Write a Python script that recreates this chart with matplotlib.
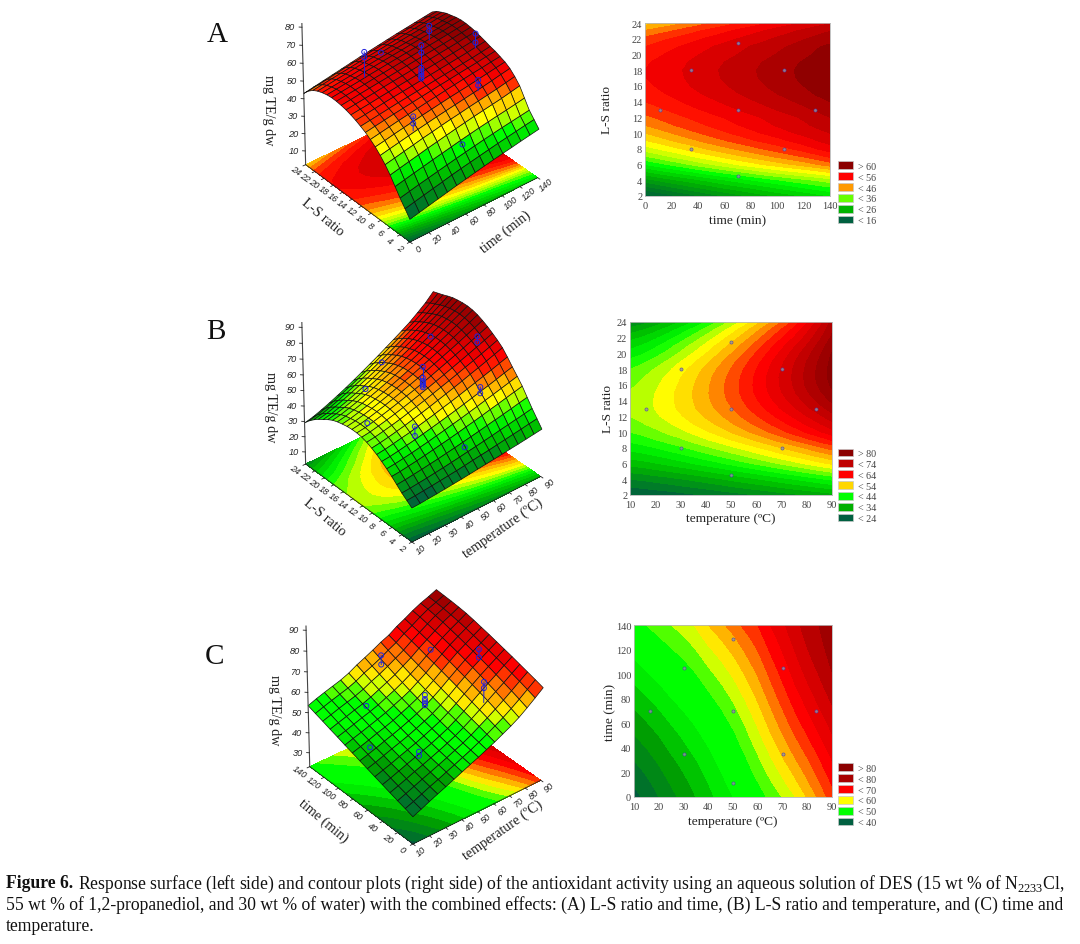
import numpy as np
import matplotlib
matplotlib.use("Agg")
import matplotlib.pyplot as plt
from matplotlib.colors import BoundaryNorm, ListedColormap, to_rgb
from matplotlib.patches import Patch
from mpl_toolkits.mplot3d import proj3d

plt.rcParams["font.family"] = ["Liberation Serif", "DejaVu Serif"]
plt.rcParams["mathtext.fontset"] = "custom"
plt.rcParams["mathtext.rm"] = "Liberation Serif"

W, H = 1080, 945

# panel A: mg TE/g dw, rows = L-S ratio, columns = time
a_time = [0, 10, 20, 30, 40, 50, 60, 70, 80, 90, 100, 110, 120, 130, 140]
a_ls = list(range(2, 25))
a_z = [
    [15, 16.2, 17.4, 18.6, 19.8, 21, 22.1, 23.2, 24.3, 25.3, 26.3, 27.2, 28.2, 29.1, 30],
    [19, 20.2, 21.4, 22.6, 23.7, 24.9, 26, 27, 28, 29, 30, 30.9, 31.8, 32.7, 33.5],
    [23, 24.2, 25.4, 26.5, 27.6, 28.7, 29.8, 30.8, 31.8, 32.8, 33.7, 34.6, 35.4, 36.2, 37],
    [27.5, 28.7, 29.9, 31, 32.2, 33.3, 34.4, 35.5, 36.5, 37.5, 38.4, 39.3, 40.1, 41, 42],
    [32, 33.2, 34.4, 35.6, 36.8, 37.9, 39, 40.1, 41.1, 42.1, 43, 43.9, 44.8, 45.9, 47],
    [35.8, 36.9, 38.1, 39.2, 40.4, 41.4, 42.5, 43.5, 44.4, 45.4, 46.3, 47.2, 48.1, 49.2, 50.3],
    [39, 40.1, 41.2, 42.3, 43.4, 44.4, 45.4, 46.3, 47.2, 48.1, 49, 49.9, 50.9, 52, 53],
    [41.8, 42.8, 43.9, 44.9, 45.9, 46.9, 47.8, 48.7, 49.6, 50.4, 51.2, 52.1, 53, 53.9, 54.8],
    [44, 45, 46, 47, 47.9, 48.8, 49.7, 50.5, 51.4, 52.2, 53, 53.8, 54.5, 55.3, 56],
    [46, 46.9, 47.8, 48.7, 49.5, 50.3, 51.1, 51.9, 52.7, 53.4, 54.2, 54.9, 55.6, 56.4, 57.2],
    [47.5, 48.3, 49.1, 49.9, 50.7, 51.4, 52.1, 52.8, 53.5, 54.2, 54.9, 55.6, 56.3, 57.1, 58],
    [48.9, 49.6, 50.4, 51.2, 51.9, 52.6, 53.3, 54, 54.7, 55.4, 56.1, 56.8, 57.5, 58.3, 59.1],
    [50, 50.7, 51.4, 52.2, 52.9, 53.6, 54.3, 55, 55.7, 56.4, 57.1, 57.8, 58.5, 59.3, 60],
    [50.9, 51.6, 52.3, 53, 53.8, 54.5, 55.2, 55.9, 56.6, 57.3, 58, 58.7, 59.4, 60.2, 60.9],
    [51.5, 52.2, 53, 53.7, 54.4, 55.1, 55.8, 56.5, 57.2, 57.9, 58.6, 59.3, 60, 60.8, 61.5],
    [51.9, 52.6, 53.3, 54, 54.8, 55.5, 56.2, 56.9, 57.6, 58.3, 59, 59.7, 60.4, 61.2, 61.9],
    [52, 52.7, 53.4, 54.1, 54.9, 55.6, 56.3, 57, 57.7, 58.4, 59.1, 59.8, 60.5, 61.3, 62],
    [51.7, 52.4, 53.1, 53.8, 54.6, 55.3, 56, 56.7, 57.4, 58.1, 58.8, 59.5, 60.2, 61, 61.7],
    [51, 51.7, 52.4, 53.1, 53.9, 54.6, 55.3, 56, 56.7, 57.4, 58.1, 58.8, 59.5, 60.3, 61],
    [50, 50.8, 51.6, 52.3, 53.1, 53.9, 54.6, 55.3, 56.1, 56.8, 57.5, 58.2, 59, 59.8, 60.4],
    [48.5, 49.3, 50.1, 50.9, 51.7, 52.5, 53.3, 54, 54.8, 55.5, 56.3, 57, 57.8, 58.6, 59.2],
    [46.2, 47.1, 47.9, 48.9, 49.8, 50.7, 51.5, 52.4, 53.2, 54, 54.9, 55.6, 56.4, 57.2, 57.9],
    [43, 44, 45, 46, 47, 48, 49, 49.9, 50.8, 51.7, 52.6, 53.4, 54.2, 55, 55.8],
]
a_nodes = [14, 20, 26, 33, 37, 41, 46, 49, 52, 56, 60, 62]
a_node_colors = ["#005a40", "#007f20", "#00b400", "#00ff00", "#a0ff00", "#ffff00", "#ff9900",
                 "#ff3000", "#ff0000", "#cc0000", "#a00000", "#800000"]
a_legend = ["> 60", "< 56", "< 46", "< 36", "< 26", "< 16"]
a_legend_colors = ["#8b0000", "#ff0000", "#ff9900", "#66ff00", "#00b400", "#006040"]
a_design_x = [11, 35, 35, 70, 70, 70, 105, 105, 129]
a_design_y = [13, 8, 18, 4.6, 13, 21.4, 8, 18, 13]
a_pt_x = [35, 35, 70, 105, 105, 129, 129, 105, 105, 35, 35, 70, 70, 70, 70, 70, 70, 70, 70]
a_pt_y = [18, 18, 21.4, 18, 18, 13, 13, 8, 8, 8, 8, 4.6, 13, 13, 13, 13, 13, 13, 13]
a_pt_z = [69, 66, 54, 67, 64, 66, 61, 55, 52, 52, 48, 34, 73.5, 69.5, 61, 59, 57.5, 56, 55]
a_stem_x = [35, 105, 70, 105, 35, 129]
a_stem_y = [18, 18, 13, 8, 8, 13]
a_stem_low = [55, 59, 55, 49, 44, 58]
a_stem_high = [69, 67, 73.5, 55, 52, 66]

# panel B: rows = L-S ratio, columns = temperature
b_temp = [10, 15, 20, 25, 30, 35, 40, 45, 50, 55, 60, 65, 70, 75, 80, 85, 90]
b_ls = list(range(2, 25))
b_z = [
    [24, 24.3, 24.7, 25.1, 25.6, 26.1, 26.6, 27.2, 27.8, 28.4, 29, 29.6, 30.3, 30.9, 31.6, 32.3, 33],
    [26.5, 26.9, 27.4, 27.9, 28.5, 29.1, 29.7, 30.4, 31.2, 31.9, 32.6, 33.4, 34.2, 35, 35.8, 36.7, 37.5],
    [29, 29.4, 30, 30.6, 31.3, 32, 32.8, 33.6, 34.5, 35.3, 36.2, 37.1, 38.1, 39, 40, 41, 42],
    [32, 32.5, 33.2, 33.9, 34.7, 35.5, 36.4, 37.3, 38.3, 39.3, 40.3, 41.4, 42.5, 43.6, 44.7, 45.9, 47],
    [35, 35.5, 36.3, 37.1, 38, 39, 40, 41, 42.1, 43.3, 44.4, 45.6, 46.9, 48.1, 49.4, 50.7, 52],
    [37.6, 38.2, 39, 39.9, 40.9, 41.9, 43.1, 44.2, 45.4, 46.6, 47.9, 49.2, 50.6, 51.9, 53.3, 54.7, 56.1],
    [40, 40.6, 41.5, 42.5, 43.5, 44.7, 45.9, 47.1, 48.4, 49.7, 51.1, 52.5, 54, 55.4, 56.9, 58.5, 60],
    [42.2, 42.9, 43.9, 45, 46, 47.4, 48.7, 50, 51.5, 52.9, 54.4, 56, 57.6, 59.2, 60.8, 62.5, 64.2],
    [44, 44.8, 45.8, 47, 48.2, 49.6, 51, 52.5, 54.1, 55.7, 57.3, 59, 60.8, 62.5, 64.3, 66.1, 68],
    [45.5, 46.3, 47.4, 48.6, 49.9, 51.4, 52.9, 54.4, 56.1, 57.8, 59.5, 61.3, 63.1, 64.9, 66.8, 68.7, 70.7],
    [46.5, 47.3, 48.5, 49.8, 51.2, 52.7, 54.3, 55.9, 57.6, 59.4, 61.2, 63.1, 65, 66.9, 68.9, 70.9, 73],
    [47, 47.8, 49.1, 50.5, 52, 53.6, 55.3, 57, 58.8, 60.7, 62.7, 64.7, 66.7, 68.7, 70.9, 73, 75.2],
    [47, 47.9, 49.2, 50.7, 52.3, 54, 55.8, 57.7, 59.6, 61.6, 63.7, 65.8, 67.9, 70.1, 72.4, 74.7, 77],
    [46.7, 47.7, 49, 50.6, 52.3, 54.1, 56, 58, 60, 62.2, 64.4, 66.6, 68.9, 71.2, 73.6, 76, 78.5],
    [46, 47, 48.5, 50.1, 51.9, 53.8, 55.8, 57.9, 60.1, 62.3, 64.6, 67, 69.4, 71.8, 74.4, 76.9, 79.5],
    [45.2, 46.3, 47.8, 49.5, 51.4, 53.3, 55.4, 57.6, 59.8, 62.1, 64.5, 67, 69.5, 72, 74.7, 77.3, 80],
    [44, 45.1, 46.7, 48.4, 50.4, 52.4, 54.6, 56.8, 59.1, 61.5, 64, 66.5, 69.1, 71.8, 74.5, 77.2, 80],
    [42.2, 43.4, 45, 46.8, 48.9, 51, 53.2, 55.6, 58, 60.5, 63, 65.7, 68.4, 71.2, 74, 76.8, 79.7],
    [40, 41.2, 42.9, 44.8, 46.9, 49.1, 51.4, 53.9, 56.4, 59, 61.7, 64.4, 67.2, 70.1, 73, 76, 79.2],
    [38, 39.2, 40.9, 42.9, 45, 47.3, 49.6, 52.1, 54.7, 57.3, 60, 62.9, 65.7, 68.6, 71.6, 74.9, 78.2],
    [35.5, 36.8, 38.5, 40.5, 42.7, 45, 47.4, 49.9, 52.5, 55.2, 58, 60.9, 63.8, 66.7, 69.9, 73.4, 77],
    [32.6, 33.9, 35.7, 37.7, 40, 42.3, 44.8, 47.4, 50.1, 52.9, 55.8, 58.7, 61.7, 64.8, 68.2, 72, 76],
    [29, 30.3, 32.2, 34.3, 36.6, 39, 41.6, 44.3, 47.1, 49.9, 52.9, 55.9, 59, 62.2, 66, 70, 75],
]
b_nodes = [24, 34, 42, 46, 50, 54, 58, 62, 65, 72, 80]
b_node_colors = ["#005a40", "#00b400", "#00ff00", "#80ff00", "#ffff00", "#ffd000", "#ff8000",
                 "#ff2000", "#ff0000", "#c80000", "#8b0000"]
b_legend = ["> 80", "< 74", "< 64", "< 54", "< 44", "< 34", "< 24"]
b_legend_colors = ["#8b0000", "#c00000", "#ff0000", "#ffd700", "#00ff00", "#00b000", "#006040"]
b_design_x = [16.3, 30, 30, 50, 50, 50, 70, 70, 83.7]
b_design_y = [13, 8, 18, 4.6, 13, 21.4, 8, 18, 13]
b_pt_x = [30, 50, 70, 83.7, 83.7, 50, 50, 50, 50, 50, 50, 50, 70, 70, 50, 30, 30, 16.3]
b_pt_y = [18, 21.4, 18, 13, 13, 13, 13, 13, 13, 13, 13, 13, 8, 8, 4.6, 8, 8, 13]
b_pt_z = [54, 54, 68, 72, 68, 69, 62, 60, 59, 58, 57, 56, 57, 53, 36, 52, 46, 50]
b_stem_x = [83.7, 50, 70, 30]
b_stem_y = [13, 13, 8, 8]
b_stem_low = [68, 56, 53, 46]
b_stem_high = [72, 69, 57, 52]

# panel C: rows = temperature, columns = time
c_temp = [10, 15, 20, 25, 30, 35, 40, 45, 50, 55, 60, 65, 70, 75, 80, 85, 90]
c_time = [0, 10, 20, 30, 40, 50, 60, 70, 80, 90, 100, 110, 120, 130, 140]
c_z = [
    [36.5, 37.7, 38.8, 40, 41.2, 42.4, 43.6, 44.8, 46, 47.2, 48.5, 49.7, 51, 52.2, 53.5],
    [38.2, 39.2, 40.3, 41.4, 42.5, 43.7, 44.8, 46, 47.2, 48.5, 49.7, 51, 52.3, 53.6, 55],
    [40, 40.9, 41.9, 42.9, 44, 45, 46.2, 47.3, 48.5, 49.7, 51, 52.2, 53.6, 54.9, 56.3],
    [41.7, 42.6, 43.5, 44.5, 45.5, 46.5, 47.6, 48.7, 49.9, 51, 52.3, 53.5, 54.8, 56.1, 57.5],
    [43.3, 44.1, 45, 45.9, 46.9, 47.9, 48.9, 50, 51.1, 52.3, 53.5, 54.7, 56, 57.3, 58.7],
    [45, 45.8, 46.6, 47.4, 48.4, 49.3, 50.3, 51.4, 52.5, 53.7, 54.9, 56.2, 57.5, 58.9, 60.3],
    [46.7, 47.4, 48.2, 49, 49.9, 50.9, 51.9, 53, 54.2, 55.4, 56.7, 58, 59.5, 61, 62.5],
    [48.4, 49.1, 49.9, 50.7, 51.6, 52.6, 53.6, 54.7, 55.9, 57.1, 58.4, 59.8, 61.2, 62.7, 64.3],
    [50, 50.8, 51.6, 52.5, 53.4, 54.4, 55.5, 56.6, 57.8, 59, 60.4, 61.7, 63.2, 64.6, 66.2],
    [51.8, 52.7, 53.6, 54.6, 55.7, 56.7, 57.8, 59, 60.2, 61.5, 62.7, 64.1, 65.4, 66.8, 68.3],
    [53.6, 54.7, 55.9, 57, 58.1, 59.3, 60.4, 61.6, 62.8, 64, 65.2, 66.4, 67.6, 68.8, 70],
    [55.6, 56.9, 58.2, 59.5, 60.8, 62.1, 63.3, 64.5, 65.7, 66.9, 68, 69.2, 70.3, 71.4, 72.5],
    [57.6, 59.1, 60.6, 62.1, 63.5, 64.8, 66.1, 67.3, 68.5, 69.6, 70.7, 71.7, 72.7, 73.6, 74.5],
    [59.9, 61.6, 63.1, 64.7, 66.1, 67.5, 68.8, 70, 71.2, 72.3, 73.3, 74.2, 75.1, 76, 76.7],
    [62.7, 64.3, 65.8, 67.2, 68.6, 70, 71.2, 72.4, 73.5, 74.6, 75.6, 76.6, 77.4, 78.1, 78.6],
    [65.7, 67.2, 68.6, 69.9, 71.2, 72.4, 73.6, 74.7, 75.8, 76.8, 77.7, 78.5, 79.2, 79.7, 80.1],
    [68.8, 70.1, 71.3, 72.5, 73.7, 74.8, 75.9, 77, 78, 79, 79.9, 80.5, 81, 81.4, 81.8],
]
c_nodes = [36, 44, 50, 55, 57.5, 60, 62.5, 65, 67.5, 71, 77, 80, 84]
c_node_colors = ["#005a40", "#00a000", "#00ff00", "#00ff00", "#a0ff00", "#ffff00", "#ffd000", "#ff9900",
                 "#ff5000", "#ff0000", "#d00000", "#a80000", "#8b0000"]
c_legend = ["> 80", "< 80", "< 70", "< 60", "< 50", "< 40"]
c_legend_colors = ["#8b0000", "#a80000", "#ff0000", "#ffff00", "#00ff00", "#006040"]
c_design_x = [16.3, 30, 30, 50, 50, 50, 70, 70, 83.7]
c_design_y = [70, 35, 105, 11, 70, 128.6, 35, 105, 70]
c_pt_x = [50, 50, 70, 83.7, 83.7, 70, 70, 50, 50, 50, 50, 50, 30, 16.3, 30, 30]
c_pt_y = [128.6, 128.6, 105, 70, 70, 35, 35, 70, 70, 70, 70, 70, 105, 70, 35, 35]
c_pt_z = [66.5, 62, 68, 72, 68, 70, 67, 62, 60, 59, 58, 57, 55, 49, 51, 49]
c_stem_x = [50, 83.7, 70]
c_stem_y = [128.6, 70, 35]
c_stem_low = [62, 68, 60]
c_stem_high = [66.5, 72, 70]


def fx(px):
    return px / W


def fy(py):
    return 1 - py / H


def band_cmap(levels, nodes, node_colors):
    mids = (np.array(levels[:-1]) + np.array(levels[1:])) / 2
    rgb = np.array([to_rgb(c) for c in node_colors])
    colors = np.column_stack([np.interp(mids, nodes, rgb[:, i]) for i in range(3)])
    return ListedColormap(colors), BoundaryNorm(levels, len(mids))


def corner_px(ax, x, y, z):
    u, v, _ = proj3d.proj_transform(x, y, z, ax.get_proj())
    return ax.transData.transform((u, v))


def surface_panel(x, y, z, levels, nodes, colors, zlim, zticks, view, zratio, front, left, right,
                  xticks, yticks, pts, stems):
    x, y, z = np.array(x, float), np.array(y, float), np.array(z, float)
    xx, yy = np.meshgrid(x, y)
    cmap, norm = band_cmap(levels, nodes, colors)
    ax = fig.add_axes([0.2, 0.2, 300 / W, 300 / H], projection="3d", proj_type="persp", focal_length=2.0)
    ax.computed_zorder = False
    ax.set_box_aspect((1, 1, zratio))
    ax.view_init(elev=view[0], azim=view[1])
    ax.set_xlim(x[0], x[-1])
    ax.set_ylim(y[0], y[-1])
    ax.set_zlim(*zlim)
    ax.set_axis_off()
    ax.patch.set_alpha(0)

    ax.contourf(xx, yy, z, levels=levels, cmap=cmap, norm=norm, zdir="z", offset=zlim[0], zorder=1)
    cell = (z[:-1, :-1] + z[1:, :-1] + z[:-1, 1:] + z[1:, 1:]) / 4
    ax.plot_surface(xx, yy, z, facecolors=cmap(norm(cell)), rstride=1, cstride=1, shade=False,
                    edgecolor="#101010", linewidth=0.5, zorder=2)

    # axis lines and ticks
    xr, yr = x[-1] - x[0], y[-1] - y[0]
    zf = zlim[0]
    line = dict(color="#222222", lw=0.6, zorder=3)
    ax.plot([x[0], x[-1]], [y[0], y[0]], [zf, zf], **line)
    ax.plot([x[0], x[0]], [y[0], y[-1]], [zf, zf], **line)
    ax.plot([x[0], x[0]], [y[-1], y[-1]], zlim, color="#444444", lw=0.8, zorder=3)
    for t in xticks:
        ax.plot([t, t], [y[0], y[0] - 0.02 * yr], [zf, zf], **line)
    for t in yticks:
        ax.plot([x[0], x[0] - 0.02 * xr], [t, t], [zf, zf], **line)
    for t in zticks:
        ax.plot([x[0], x[0] - 0.012 * xr], [y[-1], y[-1] + 0.012 * yr], [t, t], **line)

    # experimental points
    for sx, sy, lo, hi in zip(*stems):
        ax.plot([sx, sx], [sy, sy], [lo, hi], color="#2020dd", lw=0.7, zorder=4)
    ax.scatter(pts[0], pts[1], pts[2], s=13, facecolors="none", edgecolors="#2222dd",
               linewidths=0.7, depthshade=False, zorder=5)

    # scale and shift so the floor corners land on the reference pixels
    p_l = corner_px(ax, x[0], y[-1], zf)
    p_r = corner_px(ax, x[-1], y[0], zf)
    s = (right - left) / (p_r[0] - p_l[0])
    pos = ax.get_position()
    ax.set_position([pos.x0, pos.y0, pos.width * s, pos.height * s])
    p_f = corner_px(ax, x[0], y[0], zf)
    pos = ax.get_position()
    ax.set_position([pos.x0 + (front[0] - p_f[0]) / W, pos.y0 + ((H - front[1]) - p_f[1]) / H,
                     pos.width, pos.height])

    # tick labels go on the figure, at the projected tick positions
    tick_font = dict(family="Liberation Sans", style="italic", fontsize=6.6, color="#222222",
                     ha="center", va="center")

    def tick_label(px, txt, rot=0):
        fig.text(px[0] / W, px[1] / H, txt, rotation=rot, **tick_font)

    for t in xticks:
        tick_label(corner_px(ax, t, y[0] - 0.08 * yr, zf), str(t), 40)
    for t in yticks:
        tick_label(corner_px(ax, x[0] - 0.08 * xr, t, zf), str(t), -35)
    for t in zticks:
        tick_label(corner_px(ax, x[0] - 0.05 * xr, y[-1] + 0.05 * yr, t), str(t))
    return ax


def contour_panel(x, y, z, levels, nodes, colors, box, xticks, yticks, xlabel, ylabel, dx, dy,
                  legend, legend_colors, legend_bottom, xlabel_y, ylabel_x):
    cmap, norm = band_cmap(levels, nodes, colors)
    ax = fig.add_axes([fx(box[0]), fy(box[3]), (box[1] - box[0]) / W, (box[3] - box[2]) / H])
    ax.contourf(x, y, z, levels=levels, cmap=cmap, norm=norm)
    ax.scatter(dx, dy, s=5, facecolors="#9a9a9a", edgecolors="#4a3fb0", linewidths=0.5, alpha=0.8, zorder=3)
    ax.set_xlim(x[0], x[-1])
    ax.set_ylim(y[0], y[-1])
    ax.set_xticks(xticks)
    ax.set_yticks(yticks)
    ax.tick_params(length=0, pad=2, labelsize=7.5, labelcolor="#444444")
    ax.tick_params(axis="x", pad=3.5)
    ax.set_xlabel(xlabel, fontsize=9.6, color="#222222", va="center")
    ax.set_ylabel(ylabel, fontsize=9.6, color="#222222", va="center")
    ax.xaxis.set_label_coords(0.5, (box[3] - xlabel_y) / (box[3] - box[2]))
    ax.yaxis.set_label_coords((ylabel_x - box[0]) / (box[1] - box[0]), 0.5)
    for sp in ax.spines.values():
        sp.set_color("#b8b8b8")
        sp.set_linewidth(0.6)
    handles = [Patch(facecolor=c, edgecolor="#c8c8c8", linewidth=0.5) for c in legend_colors]
    fig.legend(handles, legend, loc="lower left", bbox_to_anchor=(fx(838), fy(legend_bottom)),
               frameon=False, fontsize=7.3, handlelength=1.5, handleheight=0.8, labelspacing=0.14,
               handletextpad=0.45, borderpad=0, borderaxespad=0, labelcolor="#444444")
    return ax


fig = plt.figure(figsize=(W / 100, H / 100), dpi=100)

# surfaces
surface_panel(a_time, a_ls, a_z, np.arange(14, 64, 2.0), a_nodes, a_node_colors, (2, 82),
              range(10, 81, 10), (35, -129.6), 1.03, (410, 243), 305, 537,
              range(0, 141, 20), range(2, 25, 2), (a_pt_x, a_pt_y, a_pt_z),
              (a_stem_x, a_stem_y, a_stem_low, a_stem_high))
surface_panel(b_temp, b_ls, b_z, np.arange(24, 84, 2.5), b_nodes, b_node_colors, (2, 93),
              range(10, 91, 10), (35, -129.9), 1.02, (412, 543), 305, 540,
              range(10, 91, 10), range(2, 25, 2), (b_pt_x, b_pt_y, b_pt_z),
              (b_stem_x, b_stem_y, b_stem_low, b_stem_high))
c_grid = np.array(c_z).T
surface_panel(c_temp, c_time, c_grid, np.arange(35, 87.5, 2.5), c_nodes, c_node_colors, (23, 92),
              range(30, 91, 10), (35, -129.3), 1.03, (413, 845), 309, 540,
              range(10, 91, 10), range(0, 141, 20), (c_pt_x, c_pt_y, c_pt_z),
              (c_stem_x, c_stem_y, c_stem_low, c_stem_high))

# contour maps
contour_panel(a_time, a_ls, a_z, np.arange(14, 64, 2.0), a_nodes, a_node_colors, (645, 830, 24, 197),
              range(0, 141, 20), range(2, 25, 2), "time (min)", "L-S ratio", a_design_x, a_design_y,
              a_legend, a_legend_colors, 226, 221, 607)
contour_panel(b_temp, b_ls, b_z, np.arange(24, 84, 2.5), b_nodes, b_node_colors, (630, 832, 323, 496),
              range(10, 91, 10), range(2, 25, 2), "temperature (ºC)", "L-S ratio", b_design_x, b_design_y,
              b_legend, b_legend_colors, 524, 519, 608)
contour_panel(c_temp, c_time, c_grid, np.arange(35, 87.5, 2.5), c_nodes, c_node_colors, (634, 832, 626, 798),
              range(10, 91, 10), range(0, 141, 20), "temperature (ºC)", "time (min)", c_design_x, c_design_y,
              c_legend, c_legend_colors, 828, 822, 610)

# panel letters and 3D axis titles
for letter, px, py in [("A", 217, 34.5), ("B", 216, 332), ("C", 215, 657)]:
    fig.text(fx(px), fy(py), letter, fontsize=21, ha="center", va="center", color="#111111")
for label, px, py, rot in [
    ("mg TE/g dw", 269, 110, 270), ("mg TE/g dw", 270, 407, 270), ("mg TE/g dw", 274, 710, 270),
    ("L-S ratio", 323, 218, -40), ("L-S ratio", 325, 518, -40), ("time (min)", 323, 821, -40),
    ("time (min)", 505, 232, 38), ("temperature (ºC)", 503, 528, 35), ("temperature (ºC)", 503, 830, 35),
]:
    fig.text(fx(px), fy(py), label, fontsize=10.2, rotation=rot, ha="center", va="center",
             rotation_mode="anchor", color="#222222")

# caption
cap = dict(fontsize=12.7, va="center", color="#111111")
fig.text(fx(6), fy(884), "Figure 6.", fontweight="bold", **cap)
fig.text(fx(78), fy(884), "Response surface (left side) and contour plots (right side) of the antioxidant "
         "activity using an aqueous solution of DES (15 wt % of N$_{2233}$Cl,", **cap)
fig.text(fx(6), fy(905), "55 wt % of 1,2-propanediol, and 30 wt % of water) with the combined effects: "
         "(A) L-S ratio and time, (B) L-S ratio and temperature, and (C) time and", **cap)
fig.text(fx(6), fy(927), "temperature.", **cap)

fig.savefig("out.png", dpi=100)
